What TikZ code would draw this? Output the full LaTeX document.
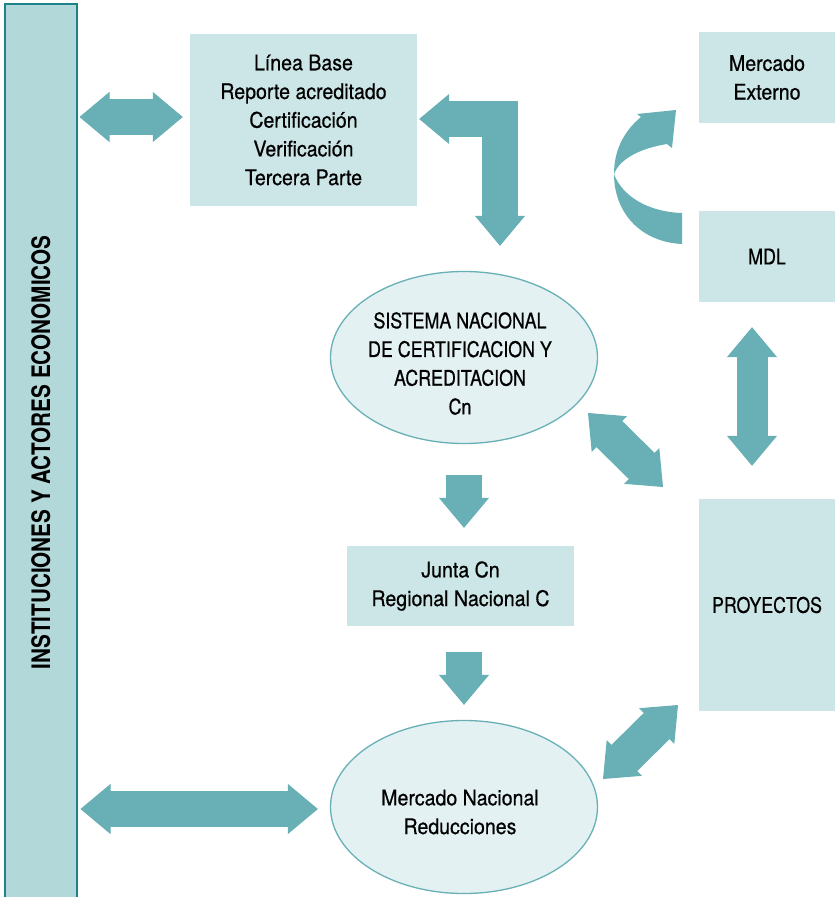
\documentclass[tikz,border=0pt]{standalone}
\usepackage{fontspec}
\setmainfont{TeX Gyre Heros}[FakeStretch=0.91,FakeBold=0.6]
\newfontfamily\capsfont{TeX Gyre Heros}[FakeStretch=0.83,FakeBold=0.6]
\newfontfamily\barfont{TeX Gyre Heros}[FakeStretch=0.81]
\usepackage{graphicx}
\usetikzlibrary{arrows.meta,calc,positioning,shapes.geometric}

\definecolor{tealarrow}{RGB}{104,176,181}
\definecolor{boxfill}{RGB}{204,229,230}
\definecolor{ovalfill}{RGB}{228,241,242}
\definecolor{barfill}{RGB}{179,216,218}
\definecolor{barline}{RGB}{28,131,137}

\newcommand\boxtxt{\fontsize{21.5}{28.7}\selectfont}

\tikzset{
  box/.style={fill=boxfill, inner sep=0pt, align=center, font=\boxtxt},
  capsbox/.style={box, font=\capsfont\boxtxt},
  oval/.style={ellipse, draw=tealarrow, line width=1.3pt, fill=ovalfill, inner sep=0pt,
    minimum width=267pt, minimum height=172pt},
  ovaltxt/.style={inner sep=0pt, align=center, font=\boxtxt},
  sidebar/.style={draw=barline, line width=1.5pt, fill=barfill, inner sep=0pt,
    minimum width=72pt, minimum height=897pt, font=\barfont\bfseries\fontsize{25.5}{30}\selectfont},
  Blk/.tip={Triangle[width=50pt,length=30pt,line width=1pt]},
  blk/.style={draw=tealarrow, line width=36.7pt},
  slim/.style={draw=tealarrow, line width=31pt},
}

\begin{document}
\begin{tikzpicture}[x=1pt,y=-1pt]

% Page frame
\useasboundingbox (0,0) rectangle (835,897);

% Side bar
\node[sidebar, anchor=north west] (inst) at (4,3) {\rotatebox{90}{INSTITUCIONES Y ACTORES ECONOMICOS}};

% Boxes
\node[box, minimum width=227pt, minimum height=172pt] (lb) at (303.5,120)
  {Línea Base\\Reporte acreditado\\Certificación\\Verificación\\Tercera Parte};
\node[box, minimum width=136pt, minimum height=91pt] (mext) at (767,77.5) {Mercado\\Externo};
\node[capsbox, minimum width=136pt, minimum height=91pt] (mdl) at (767,256.5) {MDL};
\node[box, minimum width=227pt, minimum height=80pt] (junta) at (460.5,586) {Junta Cn\\Regional Nacional C};
\node[capsbox, minimum width=136pt, minimum height=212pt] (proy) at (767,605) {PROYECTOS};

% Ellipses
\node[oval] (sis) at (464,357.5) {};
\node[ovaltxt, font=\capsfont\boxtxt] (sistxt) at (460,363.5)
  {SISTEMA NACIONAL\\DE CERTIFICACION Y\\ACREDITACION\\Cn};
\node[oval, minimum height=173pt] (mnac) at (464,807) {};
\node[ovaltxt] (mnactxt) at (460,812) {Mercado Nacional\\Reducciones};

% Diagonal arrow ends
\coordinate (d1) at (588,413);
\coordinate (d2) at (663,487);
\coordinate (d3) at (603,779);
\coordinate (d4) at (678,705);

% Block arrows
\draw[blk, Blk-Blk, shorten <=2pt, shorten >=7pt] (inst.east |- 0,117) -- (lb.west |- 0,117);
\draw[blk, Blk-Blk, shorten <=3pt, shorten >=12pt] (inst.east |- 0,809) -- (mnac.west |- 0,809);
\draw[blk, Blk-Blk, shorten <=2pt, shorten >=25pt] (lb.east |- 0,119) -| ([xshift=36pt]sis.north);
\draw[blk, -Blk, shorten <=31pt, shorten >=18pt] (sis.south) -- (sis.south |- junta.north);
\draw[blk, -Blk, shorten <=26pt, shorten >=15pt] (junta.south -| mnac.north) -- (mnac.north);
\draw[slim, Blk-Blk, shorten <=25pt, shorten >=33pt] ([xshift=-15pt]mdl.south) -- ([xshift=-15pt]proy.north);
\draw[blk, Blk-Blk] (d1) -- (d2);
\draw[blk, Blk-Blk] (d3) -- (d4);

% Curved arrow MDL to Mercado Externo
\fill[tealarrow] (682,244) .. controls (640,242) and (614,212) .. (614,174)
  .. controls (614,150) and (624,131) .. (641,117)
  -- (637,114) -- (676,110) -- (672,148) -- (667,144)
  .. controls (642,148) and (620,158) .. (614,174)
  .. controls (622,196) and (648,212) .. (682,213) -- cycle;

\end{tikzpicture}
\end{document}
